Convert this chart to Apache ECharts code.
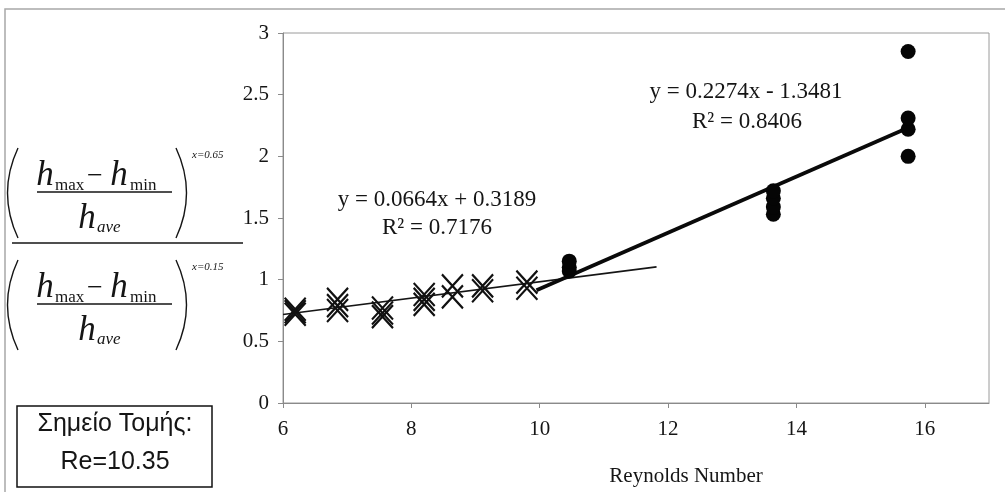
<!DOCTYPE html>
<html>
<head>
<meta charset="utf-8">
<script src="https://cdn.jsdelivr.net/npm/echarts@6/dist/echarts.min.js"></script>
<style>
  html, body { margin: 0; padding: 0; background: #fff; }
  #chart { width: 1005px; height: 492px; }
</style>
</head>
<body>
<div id="chart"></div>
<script>
// Reynolds number stations and the ratio values measured at each (crosses)
const crossRe = [6.19, 6.85, 7.55, 8.2, 8.64, 9.11, 9.8]
const crossVals = [
  [0.72, 0.74, 0.76],
  [0.75, 0.79, 0.84],
  [0.70, 0.73, 0.77],
  [0.80, 0.84, 0.88],
  [0.86, 0.95],
  [0.91, 0.95],
  [0.93, 0.98]
]
// higher Reynolds numbers (filled circles)
const dotRe = [10.46, 13.64, 15.74]
const dotVals = [
  [1.07, 1.10, 1.15],
  [1.53, 1.59, 1.66, 1.72],
  [2.00, 2.22, 2.31, 2.85]
]
// trendlines: [slope, intercept] and drawn x range
const trend1Coef = [0.0664, 0.3189]
const trend1Range = [6, 11.82]
const trend2Coef = [0.2274, -1.3481]
const trend2Range = [9.95, 15.74]
const trend1Text = ['y = 0.0664x + 0.3189', 'R² = 0.7176']
const trend2Text = ['y = 0.2274x - 1.3481', 'R² = 0.8406']
const boxText = ['Σημείο Τομής:', 'Re=10.35']

function pairs(xs, vals) {
  let res = []
  for (let i = 0; i < xs.length; i++) {
    vals[i].forEach(function (v) { res.push([xs[i], v]) })
  }
  return res
}
function trend(coef, range) {
  return range.map(function (x) { return [x, coef[0] * x + coef[1]] })
}

const serif = 'Liberation Serif, Times New Roman, serif'
const ink = '#151515'

// one (h_max - h_min / h_ave)^x bracket, shifted down by dy
function bracket(dy, sup) {
  const hFont = 'italic 35px ' + serif
  const subFont = '17px ' + serif
  return {
    type: 'group', x: 0, y: dy, silent: true,
    children: [
      {type: 'text', x: 45, y: 176, style: {text: 'h', font: hFont, fill: ink, textAlign: 'center', textVerticalAlign: 'middle'}},
      {type: 'text', x: 55, y: 186, style: {text: 'max', font: subFont, fill: ink, textAlign: 'left', textVerticalAlign: 'middle'}},
      {type: 'text', x: 95, y: 177, style: {text: '−', font: '28px ' + serif, fill: ink, textAlign: 'center', textVerticalAlign: 'middle'}},
      {type: 'text', x: 119, y: 176, style: {text: 'h', font: hFont, fill: ink, textAlign: 'center', textVerticalAlign: 'middle'}},
      {type: 'text', x: 130, y: 186, style: {text: 'min', font: subFont, fill: ink, textAlign: 'left', textVerticalAlign: 'middle'}},
      {type: 'line', shape: {x1: 37, y1: 192, x2: 172, y2: 192}, style: {stroke: ink, lineWidth: 1.3}},
      {type: 'text', x: 87, y: 219, style: {text: 'h', font: hFont, fill: ink, textAlign: 'center', textVerticalAlign: 'middle'}},
      {type: 'text', x: 97, y: 228, style: {text: 'ave', font: 'italic 17px ' + serif, fill: ink, textAlign: 'left', textVerticalAlign: 'middle'}},
      {type: 'bezierCurve', shape: {x1: 18, y1: 148, x2: 18, y2: 238, cpx1: -3, cpy1: 193}, style: {stroke: ink, fill: 'none', lineWidth: 1.4}},
      {type: 'bezierCurve', shape: {x1: 176, y1: 148, x2: 176, y2: 238, cpx1: 197, cpy1: 193}, style: {stroke: ink, fill: 'none', lineWidth: 1.4}},
      {type: 'text', x: 192, y: 155, style: {text: sup, font: 'italic 11px ' + serif, fill: ink, textAlign: 'left', textVerticalAlign: 'middle'}}
    ]
  }
}

let chart = echarts.init(document.getElementById('chart'), null, {renderer: 'canvas'})
let option = {
  backgroundColor: '#fff',
  animation: false,
  grid: {
    left: 283, right: 16, top: 33, bottom: 88,
    show: true, borderColor: '#9a9a9a', borderWidth: 1
  },
  xAxis: {
    type: 'value', min: 6, max: 17, interval: 2,
    name: 'Reynolds Number', nameLocation: 'middle', nameGap: 63,
    nameTextStyle: {fontFamily: serif, fontSize: 21, color: ink, padding: [0, 0, 0, 100]},
    axisLine: {show: true, lineStyle: {color: '#8a8a8a'}},
    axisTick: {show: true, length: 5, lineStyle: {color: '#8a8a8a'}},
    axisLabel: {fontFamily: serif, fontSize: 21, color: ink, margin: 16, showMaxLabel: false},
    splitLine: {show: false}
  },
  yAxis: {
    type: 'value', min: 0, max: 3, interval: 0.5,
    axisLine: {show: true, lineStyle: {color: '#8a8a8a'}},
    axisTick: {show: true, length: 5, lineStyle: {color: '#8a8a8a'}},
    axisLabel: {fontFamily: serif, fontSize: 21, color: ink, margin: 14},
    splitLine: {show: false}
  },
  series: [
    {
      type: 'line', data: trend(trend1Coef, trend1Range), symbol: 'none',
      lineStyle: {color: ink, width: 1.6}, z: 3
    },
    {
      type: 'line', data: trend(trend2Coef, trend2Range), symbol: 'none',
      lineStyle: {color: '#0a0a0a', width: 3.8}, z: 3
    },
    {
      type: 'scatter', data: pairs(crossRe, crossVals),
      symbol: 'path://M0,0L20,22M20,0L0,22', symbolSize: [21, 23],
      itemStyle: {color: 'none', borderColor: '#111', borderWidth: 2.2, opacity: 1}, z: 4
    },
    {
      type: 'scatter', data: pairs(dotRe, dotVals),
      symbol: 'circle', symbolSize: 15,
      itemStyle: {color: '#050505', opacity: 1}, z: 4
    }
  ],
  graphic: [
    // outer chart frame (only top/left edges fall inside the picture)
    {type: 'rect', shape: {x: 5, y: 9, width: 1010, height: 500}, style: {fill: 'none', stroke: '#a8a8a8', lineWidth: 1.5}, silent: true},
    bracket(0, 'x=0.65'),
    bracket(112, 'x=0.15'),
    {type: 'line', shape: {x1: 12, y1: 243, x2: 243, y2: 243}, style: {stroke: ink, lineWidth: 1.5}, silent: true},
    {type: 'text', x: 437, y: 200, style: {text: trend1Text[0], font: '23px ' + serif, fill: ink, textAlign: 'center', textVerticalAlign: 'middle'}},
    {type: 'text', x: 437, y: 228, style: {text: trend1Text[1], font: '23px ' + serif, fill: ink, textAlign: 'center', textVerticalAlign: 'middle'}},
    {type: 'text', x: 746, y: 92, style: {text: trend2Text[0], font: '23px ' + serif, fill: ink, textAlign: 'center', textVerticalAlign: 'middle'}},
    {type: 'text', x: 747, y: 122, style: {text: trend2Text[1], font: '23px ' + serif, fill: ink, textAlign: 'center', textVerticalAlign: 'middle'}},
    {type: 'rect', shape: {x: 17, y: 406, width: 195, height: 81}, style: {fill: '#fff', stroke: '#111', lineWidth: 1.5}, silent: true},
    {type: 'text', x: 115, y: 424, style: {text: boxText[0], font: '25px Liberation Sans, Arial, sans-serif', fill: ink, textAlign: 'center', textVerticalAlign: 'middle'}},
    {type: 'text', x: 115, y: 462, style: {text: boxText[1], font: '25px Liberation Sans, Arial, sans-serif', fill: ink, textAlign: 'center', textVerticalAlign: 'middle'}}
  ]
}
chart.setOption(option)
window.addEventListener('resize', function () {
  chart.resize()
})
</script>
</body>
</html>
